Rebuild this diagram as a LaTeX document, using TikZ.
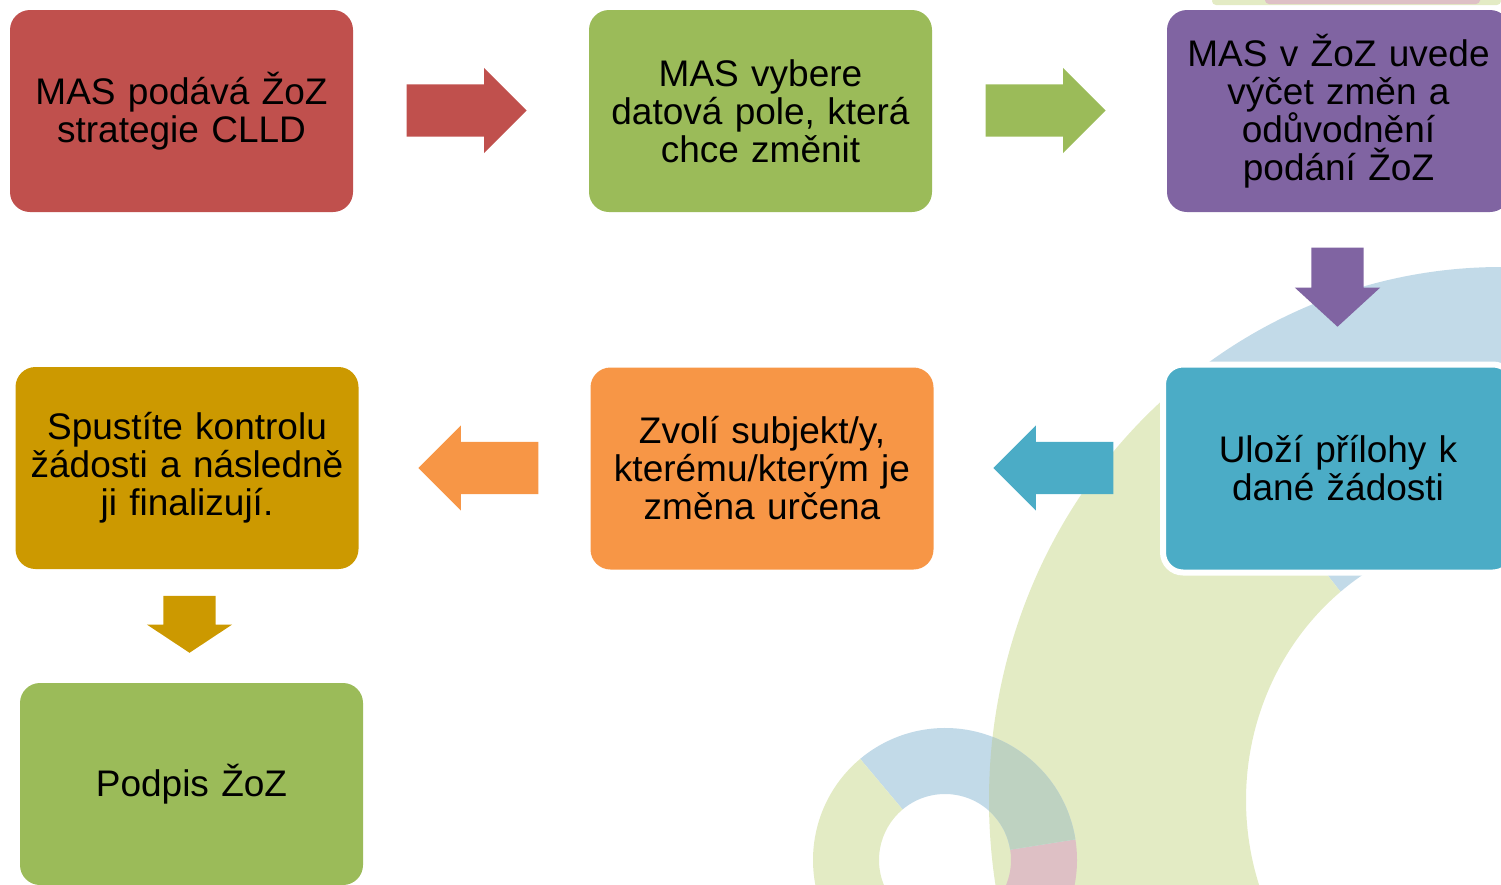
\documentclass[tikz,border=0pt]{standalone}
\usepackage{fontspec}
\setmainfont{Liberation Sans}
\usetikzlibrary{shapes.arrows}
\definecolor{cervena}{HTML}{C0504D}
\definecolor{zelena}{HTML}{9BBB59}
\definecolor{fialova}{HTML}{8064A2}
\definecolor{modra}{HTML}{4BACC6}
\definecolor{oranzova}{HTML}{F79646}
\definecolor{zluta}{HTML}{CC9900}
\definecolor{svzelena}{HTML}{E3EBC4}
\definecolor{svmodra}{HTML}{C2DAE8}
\definecolor{ruzova}{HTML}{DEC0C5}
\definecolor{smes}{HTML}{BED2C1}
\tikzset{
  krok/.style={rectangle,rounded corners=20pt,minimum width=343pt,minimum height=202pt,
    text width=330pt,align=center,inner sep=0pt,font=\fontsize{37}{38}\selectfont},
  sipka/.style={single arrow,single arrow head extend=16.5pt,minimum width=85pt,
    minimum height=120pt,inner xsep=0pt,inner ysep=26pt,anchor=tip},
}
\begin{document}
\begin{tikzpicture}[x=1pt,y=1pt]
\useasboundingbox (0,0) rectangle (1501,-884);
\clip (0,0) rectangle (1501,-884);

\begin{scope}[shift={(1501,-800)}]
  \fill[svmodra] (129:512 and 533) arc[start angle=129,end angle=40,x radius=512,y radius=533]
    -- (40:255 and 268) arc[start angle=40,end angle=129,x radius=255,y radius=268] -- cycle;
  \fill[svzelena] (129:512 and 533) arc[start angle=129,end angle=270,x radius=512,y radius=533]
    -- (270:255 and 268) arc[start angle=270,end angle=129,x radius=255,y radius=268] -- cycle;
\end{scope}
\begin{scope}[shift={(945,-860)}]
  \fill[ruzova] (-100:132) arc[start angle=-100,end angle=9,radius=132]
    -- (9:66) arc[start angle=9,end angle=-100,radius=66] -- cycle;
  \fill[svmodra] (9:132) arc[start angle=9,end angle=130,radius=132]
    -- (130:66) arc[start angle=130,end angle=9,radius=66] -- cycle;
  \fill[svzelena] (130:132) arc[start angle=130,end angle=260,radius=132]
    -- (260:66) arc[start angle=260,end angle=130,radius=66] -- cycle;
\end{scope}
\begin{scope}
  \clip (1501,-800) ellipse [x radius=512,y radius=533];
  \fill[smes,shift={(945,-860)}] (9:132) arc[start angle=9,end angle=130,radius=132]
    -- (130:66) arc[start angle=130,end angle=9,radius=66] -- cycle;
\end{scope}
\fill[svzelena,rounded corners=4pt] (1212,3) rectangle (1501,-5);
\fill[ruzova,rounded corners=4pt] (1265,3) rectangle (1480,-4);

\node (k1) [krok,fill=cervena] at (181.5,-111) {MAS podává ŽoZ\\strategie CLLD};
\node (k2) [krok,fill=zelena] at (760.5,-111) {MAS vybere\\datová pole, která\\chce změnit};
\node (k3) [krok,fill=fialova] at (1338.5,-111) {MAS v ŽoZ uvede\\výčet změn a\\odůvodnění\\podání ŽoZ};
\node (k4) [krok,fill=modra,draw=white,line width=6pt,minimum width=350pt,minimum height=208pt]
  at (1338,-468.5) {Uloží přílohy k\\dané žádosti};
\node (k5) [krok,fill=oranzova] at (762,-468.5) {Zvolí subjekt/y,\\kterému/kterým je\\změna určena};
\node (k6) [krok,fill=zluta] at (187,-468) {Spustíte kontrolu\\žádosti a následně\\ji finalizují.};
\node (k7) [krok,fill=zelena] at (191.5,-784) {Podpis ŽoZ};

\node (s1) [sipka,fill=cervena] at (527,-110.5) {};
\node (s2) [sipka,fill=zelena] at (1106,-110.5) {};
\node (s3) [sipka,fill=fialova,rotate=-90,minimum height=79pt,single arrow tip angle=95]
  at (1337.5,-327) {};
\node (s4) [sipka,fill=modra,rotate=180] at (993,-468) {};
\node (s5) [sipka,fill=oranzova,rotate=180] at (418,-468) {};
\node (s6) [sipka,fill=zluta,rotate=-90,minimum height=57pt,single arrow tip angle=113]
  at (189.5,-653) {};
\end{tikzpicture}
\end{document}
